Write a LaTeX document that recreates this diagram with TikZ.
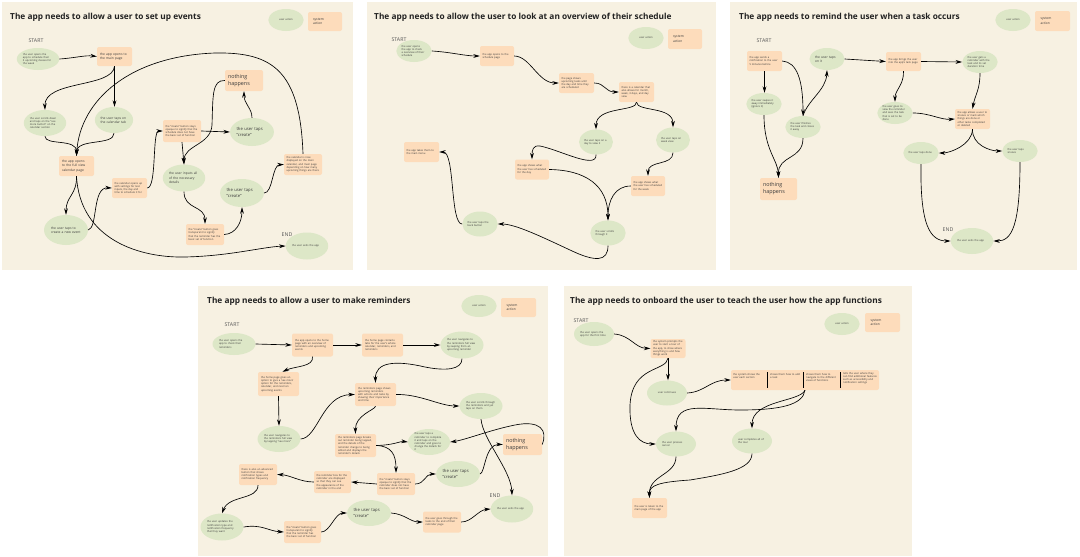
\documentclass[tikz,border=0pt]{standalone}
\usepackage{fontspec}
\setmainfont{Open Sans}
\usetikzlibrary{shapes.geometric,arrows.meta}
\definecolor{pbg}{HTML}{F7F1E2}
\definecolor{ugreen}{HTML}{DDE7C7}
\definecolor{speach}{HTML}{FDDCBB}
\definecolor{txt}{HTML}{3A3A3A}
\definecolor{titc}{HTML}{222222}
\definecolor{labc}{HTML}{555555}
\hyphenpenalty=10000
\exhyphenpenalty=10000
\newcommand{\ftiny}{\fontsize{2.6}{3.2}\selectfont}
\newcommand{\fsmall}{\fontsize{3.3}{4.3}\selectfont}
\newcommand{\fmid}{\fontsize{4.2}{5.4}\selectfont}
\newcommand{\fbig}{\fontsize{5.4}{7}\selectfont}
\newcommand{\ftitle}{\fontsize{8.3}{10}\selectfont\bfseries}
\newcommand{\flab}{\fontsize{5.2}{6}\selectfont}
\tikzset{
 ue/.style n args={3}{ellipse, fill=ugreen, draw=none, inner sep=0pt, minimum width=#1, minimum height=#2, text width=#3, align=left, text=txt},
 sb/.style n args={3}{rectangle, rounded corners=2pt, fill=speach, draw=none, inner sep=0pt, minimum width=#1, minimum height=#2, text width=#3, align=left, text=txt},
 arr/.style={draw=black, line width=0.65pt, -{Stealth[length=6.5pt,width=3.8pt]}},
 lab/.style={font=\flab, text=labc, inner sep=0pt},
 ttl/.style={anchor=west, font=\ftitle, text=titc, inner sep=0pt},
 divl/.style={line width=0.9pt, draw=black}
}
\begin{document}
\begin{tikzpicture}[x=1pt,y=-1pt]
\useasboundingbox (0,0) rectangle (1080,557);
\fill[white] (0,0) rectangle (1080,557);
\fill[pbg] (2,2) rectangle (353,270);
\fill[pbg] (367,2) rectangle (716,270);
\fill[pbg] (730,2) rectangle (1077,270);
\fill[pbg] (198,286) rectangle (548,556);
\fill[pbg] (564,286) rectangle (912,556);

% ---------------- Panel 1
\node[ttl] (t1) at (10,17) {The app needs to allow a user to set up events};
\node[ue={35}{22}{25},font=\ftiny,align=center] (l1a) at (286,20) {user action};
\node[sb={34}{19}{24},font=\fsmall] (l1b) at (325,21.5) {system\\action};
\node[lab] (s1) at (36,41) {START};
\node[ue={42}{22}{30},font=\ftiny] (a1) at (38,59) {the user opens the app to schedule their 3 upcoming classes for the week};
\node[sb={35}{19}{29},font=\fsmall] (a2) at (114.5,56.5) {the app opens to the main page};
\node[ue={42}{26}{30},font=\ftiny] (a3) at (45,123) {the user scrolls down and taps on the "see more button" on the calendar section};
\node[ue={38}{26}{27},font=\fsmall] (a4) at (114,120) {the user taps on the calendar tab};
\node[sb={35}{20}{29},font=\fsmall] (a5) at (76.5,166) {the app opens to the full view calendar page};
\node[ue={44}{30}{30},font=\fsmall] (a6) at (66,230) {the user taps to create a new event};
\node[sb={35}{20}{30},font=\ftiny] (a7) at (129.5,188) {the calendar opens up with settings for text inputs, the day and time to schedule it for};
\node[sb={38}{22}{33},font=\ftiny] (a8) at (182,131) {the "create" button stays opaque to signify that the schedule does not have the basic set of function};
\node[ue={42}{27}{30},font=\fsmall] (a9) at (184,178) {the user inputs all of the necessary details};
\node[sb={38}{21}{32},font=\fbig] (a10) at (244,80.5) {nothing\\happens};
\node[ue={43}{28}{31},font=\fmid] (a11) at (252,132) {the user taps "create"};
\node[sb={38}{21}{33},font=\ftiny] (a12) at (205,234.5) {the "create" button goes transparent to signify that the reminder has the basic set of function};
\node[ue={43}{28}{31},font=\fmid] (a13) at (242,193) {the user taps "create"};
\node[sb={38}{21}{33},font=\ftiny] (a14) at (303,164.5) {the calendar is now displayed on the main calendar, and main page depending on how many upcoming things are there};
\node[lab] (e1) at (287,235) {END};
\node[ue={42}{27}{30},font=\ftiny] (a15) at (307,246) {the user exits the app};

\draw[arr] (a1.east) .. controls (75,58) and (85,55) .. (a2.west);
\draw[arr] (a2.south) -- (a2.south |- a4.north);
\draw[arr] (a2.south) .. controls (113,88) and (44,80) .. (a3.north);
\draw[arr] (a3.south) .. controls (45,146) and (77,138) .. (a5.north);
\draw[arr] (a4.south) .. controls (114,146) and (77,138) .. (a5.north);
\draw[arr] (a14.north) .. controls (300,70) and (272,52) .. (215,53) .. controls (130,56) and (80,100) .. (a5.north);
\draw[arr] (a5.south) .. controls (77,195) and (66,196) .. (a6.north);
\draw[arr] (a5.south) .. controls (80,240) and (140,258) .. (185,257) .. controls (230,256) and (262,247) .. (a15.west);
\draw[arr] (a6.east) .. controls (98,228) and (92,187) .. (a7.west);
\draw[arr] (a7.east) .. controls (157,188) and (152,131) .. (a8.west);
\draw[arr] (a8.east) -- (a11.west);
\draw[arr] (a11.north) .. controls (252,108) and (244,104) .. (a10.south);
\draw[arr] (a10.west) .. controls (212,80) and (213,95) .. (212,125) .. controls (211,145) and (184,145) .. (a9.north);
\draw[arr] (a8.south) -- (a9.north);
\draw[arr] (a9.south) .. controls (184,210) and (205,205) .. (a12.north);
\draw[arr] (a12.east) .. controls (236,234) and (242,222) .. (a13.south);
\draw[arr] (a13.east) .. controls (273,193) and (272,165) .. (a14.west);

% ---------------- Panel 2
\node[ttl] (t2) at (374,17) {The app needs to allow the user to look at an overview of their schedule};
\node[ue={35}{22}{25},font=\ftiny,align=center] (l2a) at (646,38) {user action};
\node[sb={34}{20}{24},font=\fsmall] (l2b) at (685,39) {system\\action};
\node[lab] (s2) at (399,40) {START};
\node[ue={35}{22}{25},font=\ftiny] (b1) at (414,51) {the user opens the app to check a overview of their schedule};
\node[sb={34}{20}{29},font=\ftiny] (b2) at (497,56) {the app opens to the schedule page};
\node[sb={35}{20}{30},font=\ftiny] (b3) at (576.5,83) {the page shows upcoming tasks until the day and time they are scheduled};
\node[sb={35}{20}{30},font=\ftiny] (b4) at (636.5,92) {there is a calendar that also allows for month, week, 3 days, and day view};
\node[ue={33}{25}{24},font=\ftiny] (b5) at (596,142) {the user taps on a day to view it};
\node[ue={33}{25}{24},font=\ftiny] (b6) at (673,140) {the user taps on week view};
\node[sb={34}{20}{29},font=\ftiny] (b7) at (648,186) {the app shows what the user has scheduled for the week};
\node[sb={34}{20}{29},font=\ftiny] (b8) at (532,169.5) {the app shows what the user has scheduled for the day};
\node[ue={35}{25}{25},font=\ftiny] (b9) at (608,233) {the user scrolls through it};
\node[ue={35}{25}{25},font=\ftiny] (b10) at (480,224) {the user taps the back button};
\node[sb={35}{20}{30},font=\ftiny] (b11) at (421.5,152) {the app takes them to the main menu};

\draw[arr] (b1.east) .. controls (450,52) and (465,56) .. (b2.west);
\draw[arr] (b2.east) .. controls (530,56) and (538,83) .. (b3.west);
\draw[arr] (b3.east) .. controls (605,83) and (605,92) .. (b4.west);
\draw[arr] (b4.south) .. controls (637,112) and (596,106) .. (b5.north);
\draw[arr] (b4.south) .. controls (637,112) and (673,106) .. (b6.north);
\draw[arr] (b6.south) .. controls (673,166) and (648,160) .. (b7.north);
\draw[arr] (b5.south) .. controls (597,170) and (560,150) .. (540,146) .. controls (533,145) and (532,150) .. (b8.north);
\draw[arr] (b8.east) .. controls (585,170) and (608,185) .. (b9.north);
\draw[arr] (b7.west) .. controls (615,186) and (608,200) .. (b9.north);
\draw[arr] (b9.south) .. controls (608,262) and (595,262) .. (570,250) .. controls (540,236) and (515,224) .. (b10.east);
\draw[arr] (b10.west) .. controls (450,224) and (455,152) .. (b11.east);

% ---------------- Panel 3
\node[ttl] (t3) at (739,17) {The app needs to remind the user when a task occurs};
\node[ue={35}{22}{25},font=\ftiny,align=center] (l3a) at (1013,20) {user action};
\node[sb={35}{20}{24},font=\fsmall] (l3b) at (1052.5,21) {system\\action};
\node[lab] (s3) at (764,41) {START};
\node[sb={35}{20}{30},font=\ftiny] (c1) at (764.5,61) {the app sends a notification to the user 5 minutes before};
\node[ue={35}{22}{24},font=\fsmall] (c2) at (827,59) {the user taps on it};
\node[sb={35}{19}{30},font=\ftiny] (c3) at (903.5,61.5) {the app brings the user into the app's task page};
\node[ue={35}{22}{25},font=\ftiny] (c4) at (980,62) {the user gets a reminder with the task and its set duration time};
\node[ue={35}{22}{25},font=\ftiny] (c5) at (764,104) {the user swipes it away immediately (ignore it)};
\node[ue={35}{22}{25},font=\ftiny] (c6) at (803,127) {the user finishes the task and closes it away};
\node[ue={35}{22}{25},font=\ftiny] (c7) at (895,113) {the user goes to view the reminder and sees the task that is set to be done};
\node[sb={35}{20}{30},font=\ftiny] (c8) at (972.5,119) {the app allows a user to snooze or mark which things are done or other tasks completed or deleted};
\node[ue={35}{22}{25},font=\ftiny] (c9) at (921,153) {the user taps done};
\node[ue={35}{22}{25},font=\ftiny] (c10) at (1020,151) {the user taps snooze};
\node[sb={37}{22}{31},font=\fbig] (c11) at (778.5,189) {nothing\\happens};
\node[lab] (e3) at (948,230) {END};
\node[ue={42}{26}{30},font=\ftiny] (c12) at (972,241) {the user exits the app};

\draw[arr] (c1.south) -- (c1.south |- c5.north);
\draw[arr] (c1.east) .. controls (797,62) and (803,80) .. (c6.north);
\draw[arr] (c6.north) .. controls (808,100) and (826,90) .. (c2.south);
\draw[arr] (c2.east) -- (c3.west);
\draw[arr] (c5.south) .. controls (764,150) and (778,160) .. (c11.north);
\draw[arr] (c6.south) .. controls (803,160) and (778,155) .. (c11.north);
\draw[arr] (c3.east) -- (c4.west);
\draw[arr] (c3.south) .. controls (904,85) and (895,90) .. (c7.north);
\draw[arr] (c4.south) .. controls (980,90) and (975,95) .. (c8.north);
\draw[arr] (c7.east) .. controls (930,113) and (940,120) .. (c8.west);
\draw[arr] (c8.south) .. controls (972,145) and (950,153) .. (c9.east);
\draw[arr] (c8.south) .. controls (972,145) and (990,151) .. (c10.west);
\draw[arr] (c9.south) .. controls (920,225) and (930,241) .. (c12.west);
\draw[arr] (c10.south) .. controls (1020,225) and (1012,241) .. (c12.east);

% ---------------- Panel 4
\node[ttl] (t4) at (207,301) {The app needs to allow a user to make reminders};
\node[ue={35}{22}{25},font=\ftiny,align=center] (l4a) at (479,306) {user action};
\node[sb={35}{19}{24},font=\fsmall] (l4b) at (518.5,307.5) {system\\action};
\node[lab] (s4) at (232,325) {START};
\node[ue={43}{22}{30},font=\ftiny] (d1) at (234,344) {the user opens the app to check their reminders};
\node[sb={41}{23}{35},font=\ftiny] (d2) at (312.5,345) {the app opens to the home page with an overview of reminders and upcoming events};
\node[sb={41}{23}{35},font=\ftiny] (d3) at (382.5,345) {the home page contains tabs for the user's whole calendar, reminders, and reminders};
\node[ue={43}{27}{30},font=\ftiny] (d4) at (462,345) {the user navigates to the reminders full view by swiping from an upcoming reminder};
\node[sb={41}{24}{35},font=\ftiny] (d5) at (278.5,384) {the home page gives an option to give a 'see more' option for the reminders, calendar, and next ten upcoming events};
\node[ue={43}{26}{30},font=\ftiny] (d6) at (279,439) {the user navigates to the reminders full view by tapping "see more"};
\node[sb={41}{23}{35},font=\ftiny] (d7) at (375.5,394.5) {the reminders page shows upcoming reminders with actions and tasks by showing their importance and time};
\node[ue={43}{26}{30},font=\ftiny] (d8) at (481,406) {the user scrolls through the reminders and yet taps on them};
\node[sb={41}{23}{35},font=\ftiny] (d9) at (355.5,445.5) {the reminders page breaks out reminder being tapped, and the details of the reminder change to being edited and displays the reminder's details};
\node[ue={42}{26}{29},font=\ftiny] (d10) at (429,442) {the user taps a reminder to complete it and taps on the reminder and goes to change the details for it};
\node[sb={39}{21}{33},font=\fbig] (d11) at (522.5,444.5) {nothing\\happens};
\node[sb={38}{22}{33},font=\ftiny] (d12) at (396,484) {the "create" button stays opaque to signify that the reminder does not have the basic set of function};
\node[ue={43}{26}{31},font=\fmid] (d13) at (458,474) {the user taps "create"};
\node[sb={37}{22}{32},font=\ftiny] (d14) at (332.5,482) {the reminder box for the reminder are displayed so that they can see the appearance of the reminder in the end};
\node[sb={38}{21}{33},font=\ftiny] (d15) at (258,474.5) {there is also an advanced button that shows notification types and notification frequency};
\node[ue={43}{27}{30},font=\ftiny] (d16) at (222,527) {the user updates the notification type and notification frequency that they want};
\node[sb={37}{22}{32},font=\ftiny] (d17) at (302.5,532) {the "create" button goes transparent to signify that the reminder has the basic set of function};
\node[ue={43}{26}{31},font=\fmid] (d18) at (369,513) {the user taps "create"};
\node[sb={38}{21}{33},font=\ftiny] (d19) at (442,522) {the user goes through the tasks to the end of their reminder page};
\node[lab] (e4) at (495,496) {END};
\node[ue={42}{27}{30},font=\ftiny] (d20) at (512,509) {the user exits the app};

\draw[arr] (d1.east) -- (d2.west);
\draw[arr] (d2.east) -- (d3.west);
\draw[arr] (d3.east) -- (d4.west);
\draw[arr] (d4.south) .. controls (462,370) and (445,371) .. (425,367) .. controls (395,360) and (375,362) .. (d7.north);
\draw[arr] (d2.south) .. controls (314,367) and (295,366) .. ([xshift=4pt]d5.north);
\draw[arr] (d5.south) -- (d6.north);
\draw[arr] (d6.east) .. controls (318,438) and (322,395) .. (d7.west);
\draw[arr] (d7.east) .. controls (420,394) and (440,406) .. (d8.west);
\draw[arr] (d7.south) .. controls (375,410) and (355,415) .. (d9.north);
\draw[arr] (d9.east) .. controls (395,445) and (400,441) .. (d10.west);
\draw[arr] (d9.east) .. controls (392,446) and (396,455) .. (d12.north);
\draw[arr] (d11.east) .. controls (548,430) and (540,420) .. (515,425) .. controls (490,430) and (465,440) .. (d10.east);
\draw[arr] (d8.south) .. controls (483,440) and (511,470) .. (d20.north);
\draw[arr] (d12.east) .. controls (425,484) and (425,474) .. (d13.west);
\draw[arr] (d13.east) .. controls (485,473) and (485,444) .. (d11.west);
\draw[arr] (d12.west) -- (d14.east);
\draw[arr] (d14.west) .. controls (300,482) and (290,475) .. (d15.east);
\draw[arr] (d15.south) .. controls (258,500) and (229,495) .. (d16.north);
\draw[arr] (d16.east) .. controls (262,524) and (268,531) .. (d17.west);
\draw[arr] (d17.east) .. controls (330,532) and (335,513) .. (d18.west);
\draw[arr] (d18.east) .. controls (405,514) and (410,522) .. (d19.west);
\draw[arr] (d19.east) .. controls (472,522) and (478,510) .. (d20.west);

% ---------------- Panel 5
\node[ttl] (t5) at (570,301) {The app needs to onboard the user to teach the user how the app functions};
\node[ue={35}{22}{25},font=\ftiny,align=center] (l5a) at (842,324) {user action};
\node[sb={35}{19}{24},font=\fsmall] (l5b) at (882.5,322.5) {system\\action};
\node[lab] (s5) at (581,321) {START};
\node[ue={40}{24}{28},font=\ftiny] (f1) at (594,334) {the user opens the app for the first time};
\node[sb={35}{19}{30},font=\ftiny] (f2) at (668,348.5) {the system prompts the user to start a tour of the app, to show where everything is and how things work};
\node[ue={40}{25}{28},font=\ftiny,align=center] (f3) at (667,393) {user continues};
\node[sb={148}{20}{140}] (f4) at (805,380) {};
\node[font=\ftiny, text=txt, text width=32, align=left, inner sep=0pt, anchor=north west] (f4a) at (733,373) {the system shows the user each section};
\node[font=\ftiny, text=txt, text width=32, align=left, inner sep=0pt, anchor=north west] (f4b) at (770,373) {shows them how to add a task};
\node[font=\ftiny, text=txt, text width=32, align=left, inner sep=0pt, anchor=north west] (f4c) at (806,373) {shows them how to navigate to the different views of functions};
\node[font=\ftiny, text=txt, text width=35, align=left, inner sep=0pt, anchor=north west] (f4d) at (843,372) {tells the user where they can find additional features such as accessibility and notification settings};
\draw[divl] (767,372) -- (767,388);
\draw[divl] (803,372) -- (803,388);
\draw[divl] (840,372) -- (840,388);
\node[ue={40}{25}{28},font=\ftiny] (f5) at (676,444) {the user presses cancel};
\node[ue={40}{25}{28},font=\ftiny] (f6) at (752,441) {user completes all of the tour};
\node[sb={35}{20}{30},font=\ftiny] (f7) at (649.5,508) {the user is taken to the main page of the app};

\draw[arr] (f1.east) .. controls (630,335) and (635,348) .. (f2.west);
\draw[arr] (f2.south) -- (f2.south |- f3.north);
\draw[arr] (f2.south) .. controls (666,372) and (632,365) .. (630,405) .. controls (629,435) and (640,444) .. (f5.west);
\draw[arr] (f3.east) .. controls (705,392) and (710,380) .. (f4.west);
\draw[arr] (f4.south) .. controls (803,405) and (780,410) .. (740,410) .. controls (705,410) and (676,400) .. (f5.north);
\draw[arr] (f4.south) .. controls (800,402) and (752,400) .. (f6.north);
\draw[arr] (f5.south) .. controls (676,475) and (649,475) .. (f7.north);
\draw[arr] (f6.south) .. controls (752,470) and (720,475) .. (690,480) .. controls (660,482) and (649,485) .. (f7.north);
\end{tikzpicture}
\end{document}
